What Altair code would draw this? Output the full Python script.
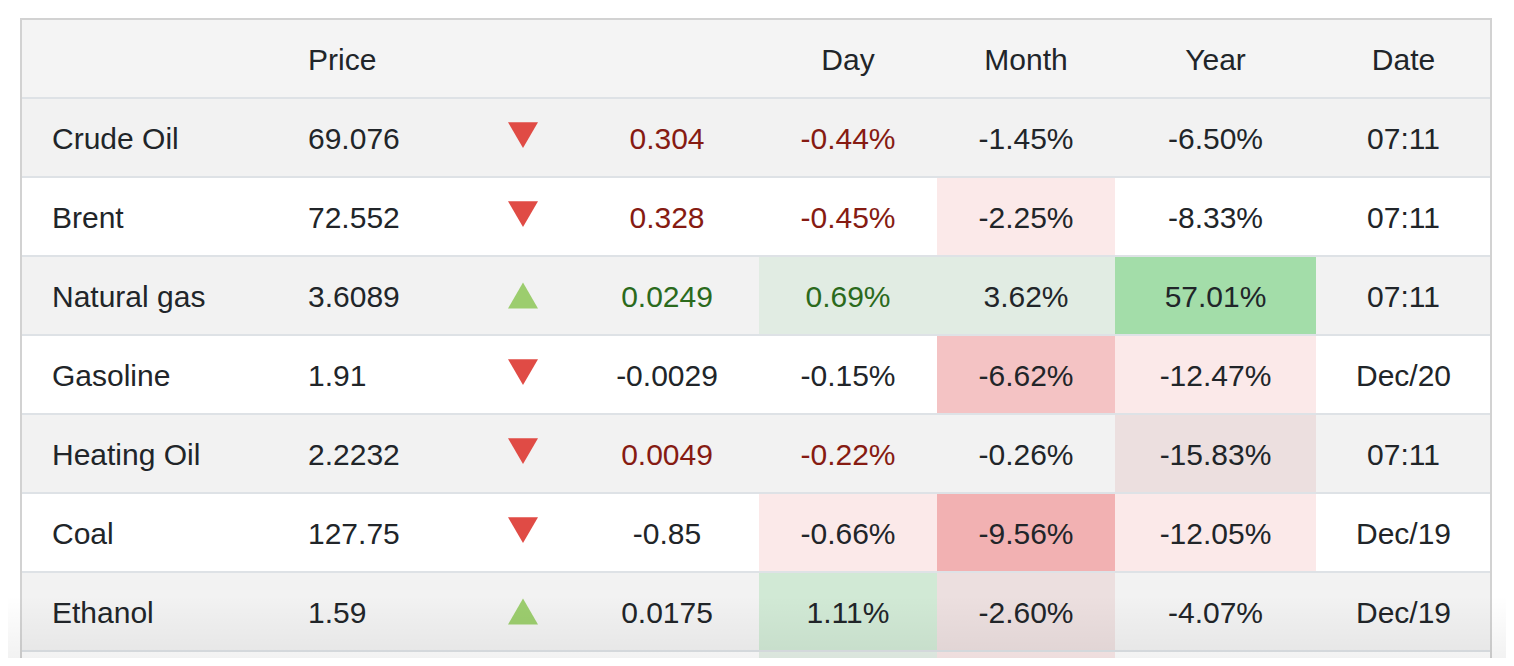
import altair as alt
import pandas as pd

# ---------------- data ----------------
names = ["Crude Oil", "Brent", "Natural gas", "Gasoline", "Heating Oil", "Coal", "Ethanol"]
prices = ["69.076", "72.552", "3.6089", "1.91", "2.2232", "127.75", "1.59"]
directions = ["down", "down", "up", "down", "down", "down", "up"]
changes = ["0.304", "0.328", "0.0249", "-0.0029", "0.0049", "-0.85", "0.0175"]
change_tone = ["neg", "neg", "pos", "none", "neg", "none", "none"]
day_pct = ["-0.44%", "-0.45%", "0.69%", "-0.15%", "-0.22%", "-0.66%", "1.11%"]
month_pct = ["-1.45%", "-2.25%", "3.62%", "-6.62%", "-0.26%", "-9.56%", "-2.60%"]
year_pct = ["-6.50%", "-8.33%", "57.01%", "-12.47%", "-15.83%", "-12.05%", "-4.07%"]
dates = ["07:11", "07:11", "07:11", "Dec/20", "07:11", "Dec/19", "Dec/19"]
header_labels = ["Price", "Day", "Month", "Year", "Date"]

# heat level of Day / Month / Year cells (last entry = partly visible 8th row)
day_heat = [0, 0, 1, 0, 0, -1, 2, 1]
month_heat = [0, -1, 1, -2, 0, -3, -1, -1]
year_heat = [0, 0, 3, -1, -1, -1, 0, 0]

# ---------------- styles / layout ----------------
FONT = "Liberation Sans"
FS = 30
DY = 2
TEXT = "#212529"
TONE = {"neg": "#861b12", "pos": "#2b6a1c", "none": TEXT}
HEAT_WHITE = {-1: "#fbe9e9", -2: "#f4c3c4", -3: "#f2b1b2", 1: "#e6f1e8", 2: "#d3ecd8", 3: "#a3dda9"}
HEAT_GREY = {-1: "#ecdfdf", -2: "#ebc0c1", -3: "#e9afb0", 1: "#e1ece3", 2: "#d1e9d5", 3: "#a3dda9"}
ROW_H = 79
TOP = 19
Y0 = -(TOP - 8) / ROW_H
Y1 = Y0 + 650 / ROW_H
edges = [21, 280, 470, 580, 759, 937, 1115, 1316, 1491]
X_NAME, X_PRICE, X_ARROW, X_CHANGE = 52, 308, 523, 667
X_DAY, X_MONTH, X_YEAR, X_DATE = 848, 1026, 1215.5, 1403.5

xs = alt.Scale(domain=[8, 1506], nice=False, zero=False)
ys = alt.Scale(domain=[Y0, Y1], nice=False, zero=False, reverse=True)

# row backgrounds
bg_rows = []
for k in range(9):
    fill = "#f4f4f4" if k == 0 else ("#f2f2f2" if k % 2 == 1 else "#ffffff")
    bg_rows.append({"x": edges[0], "x2": edges[-1], "y": k, "y2": k + 1, "fill": fill})
bg_df = pd.DataFrame(bg_rows)

# heat cells
cells = []
for i in range(8):
    k = i + 1
    pal = HEAT_GREY if k % 2 == 1 else HEAT_WHITE
    for j, heat in zip([4, 5, 6], [day_heat[i], month_heat[i], year_heat[i]]):
        if heat != 0:
            cells.append({"x": edges[j], "x2": edges[j + 1], "y": k, "y2": k + 1, "fill": pal[heat]})
cell_df = pd.DataFrame(cells)

# separators
sep_df = pd.DataFrame([{"x": edges[0], "x2": edges[-1], "y": k} for k in range(1, 9)])
border_h = pd.DataFrame([{"x": edges[0] - 1, "x2": edges[-1] + 1, "y": 0}])
border_v = pd.DataFrame([{"x": e, "y": 0, "y2": Y1} for e in (edges[0], edges[-1])])

# texts
left_txt, center_txt = [], []
left_txt.append({"x": X_PRICE, "y": 0.5, "t": header_labels[0], "c": TEXT})
for lab, xx in zip(header_labels[1:], [X_DAY, X_MONTH, X_YEAR, X_DATE]):
    center_txt.append({"x": xx, "y": 0.5, "t": lab, "c": TEXT})
for i in range(len(names)):
    yy = i + 1.5
    left_txt.append({"x": X_NAME, "y": yy, "t": names[i], "c": TEXT})
    left_txt.append({"x": X_PRICE, "y": yy, "t": prices[i], "c": TEXT})
    tc = TONE[change_tone[i]]
    center_txt.append({"x": X_CHANGE, "y": yy, "t": changes[i], "c": tc})
    center_txt.append({"x": X_DAY, "y": yy, "t": day_pct[i], "c": tc})
    center_txt.append({"x": X_MONTH, "y": yy, "t": month_pct[i], "c": TEXT})
    center_txt.append({"x": X_YEAR, "y": yy, "t": year_pct[i], "c": TEXT})
    center_txt.append({"x": X_DATE, "y": yy, "t": dates[i], "c": TEXT})
left_df = pd.DataFrame(left_txt)
center_df = pd.DataFrame(center_txt)

tri_df = pd.DataFrame({
    "x": [X_ARROW] * len(directions),
    "y": [i + 1.5 - (0.03 if d == "down" else 0) for i, d in enumerate(directions)],
    "shape": ["triangle-down" if d == "down" else "triangle-up" for d in directions],
    "fill": ["#e04b45" if d == "down" else "#9ccd6e" for d in directions],
})

X = lambda f="x": alt.X(f"{f}:Q", scale=xs, axis=None)
Y = lambda f="y": alt.Y(f"{f}:Q", scale=ys, axis=None)

bg = alt.Chart(bg_df).mark_rect(clip=True).encode(
    x=X(), x2="x2:Q", y=Y(), y2="y2:Q", color=alt.Color("fill:N", scale=None))
heat = alt.Chart(cell_df).mark_rect(clip=True).encode(
    x=X(), x2="x2:Q", y=Y(), y2="y2:Q", color=alt.Color("fill:N", scale=None))
seps = alt.Chart(sep_df).mark_rule(color="#dee2e6", strokeWidth=2, clip=True).encode(
    x=X(), x2="x2:Q", y=Y())
bh = alt.Chart(border_h).mark_rule(color="#d2d2d2", strokeWidth=2).encode(x=X(), x2="x2:Q", y=Y())
bv = alt.Chart(border_v).mark_rule(color="#d2d2d2", strokeWidth=2, clip=True).encode(
    x=X(), y=Y(), y2="y2:Q")
tl = alt.Chart(left_df).mark_text(align="left", baseline="middle", font=FONT, fontSize=FS, dy=DY).encode(
    x=X(), y=Y(), text="t:N", color=alt.Color("c:N", scale=None))
tc_ = alt.Chart(center_df).mark_text(align="center", baseline="middle", font=FONT, fontSize=FS, dy=DY).encode(
    x=X(), y=Y(), text="t:N", color=alt.Color("c:N", scale=None))
tri = alt.Chart(tri_df).mark_point(filled=True, size=900, opacity=1, strokeWidth=0).encode(
    x=X(), y=Y(), shape=alt.Shape("shape:N", scale=None), color=alt.Color("fill:N", scale=None))

fade_df = pd.DataFrame([{"x": 8, "x2": 1506, "y": 7.3, "y2": Y1}])
fade = alt.Chart(fade_df).mark_rect(
    clip=True,
    color=alt.LinearGradient(
        gradient="linear",
        stops=[alt.GradientStop(color="rgba(0,0,0,0)", offset=0),
               alt.GradientStop(color="rgba(0,0,0,0.05)", offset=1)],
        x1=0, x2=0, y1=0, y2=1),
).encode(x=X(), x2="x2:Q", y=Y(), y2="y2:Q")

chart = alt.layer(bg, heat, seps, bh, bv, tri, tl, tc_, fade).properties(
    width=1498, height=650, padding=0, autosize=alt.AutoSizeParams(type="none")
).configure_view(stroke=None)

chart.save("out.html", embed_options={"renderer": "svg", "actions": False})
